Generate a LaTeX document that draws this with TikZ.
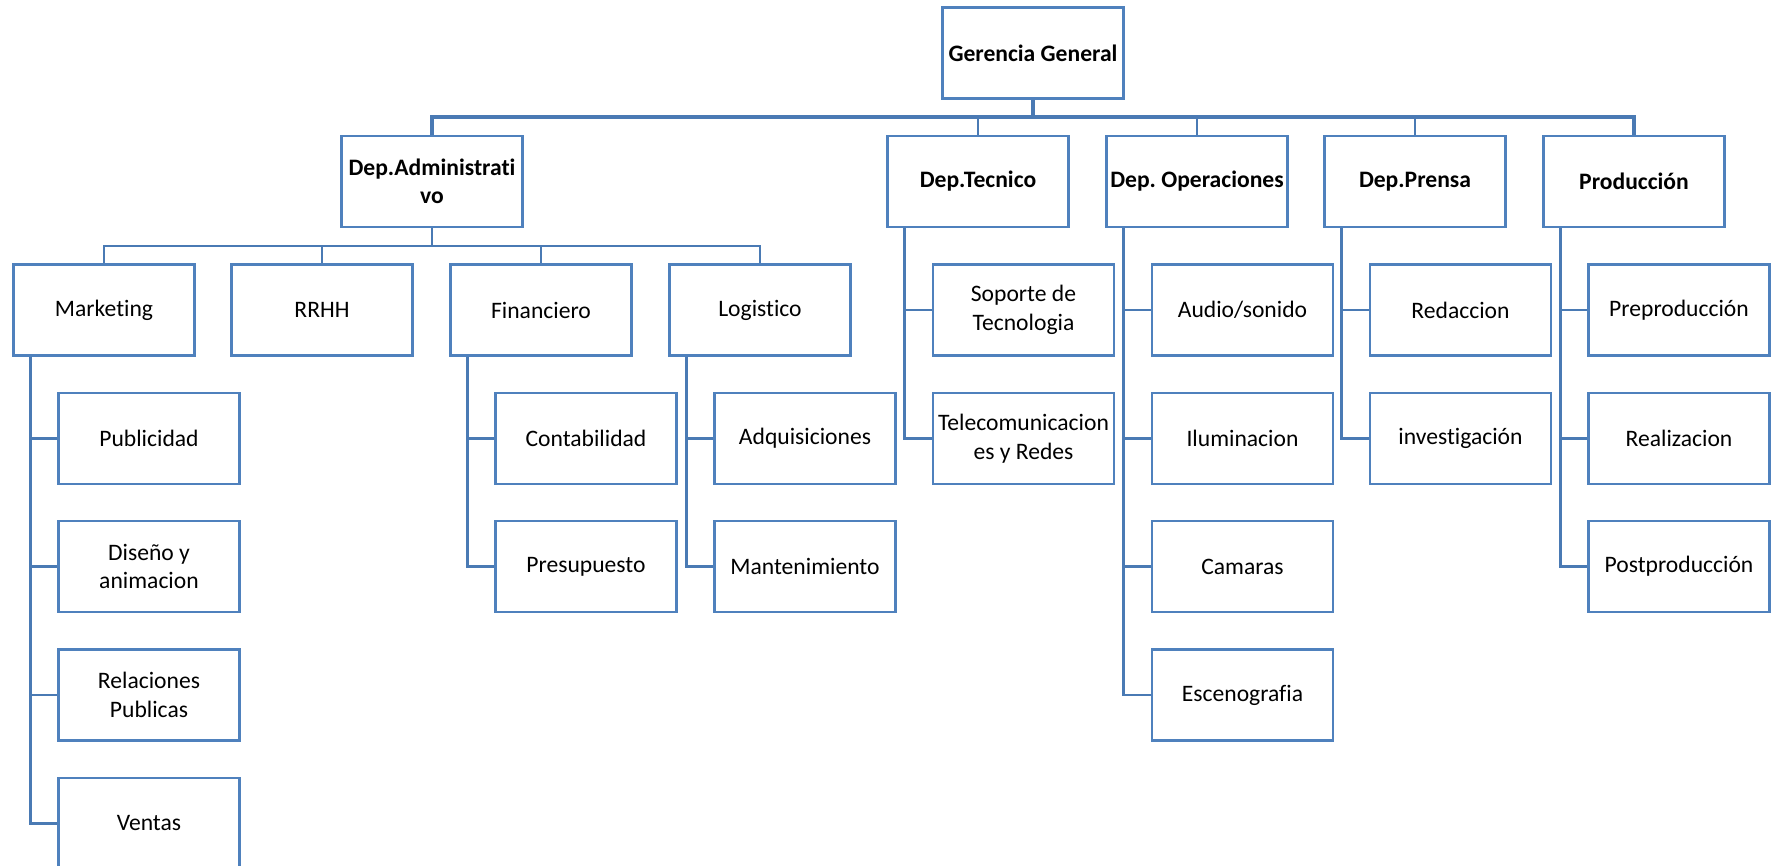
\documentclass[tikz,border=0pt]{standalone}
\usepackage{fontspec}
\setmainfont{Carlito}[Ligatures=NoCommon]
\frenchspacing
\definecolor{boxblue}{RGB}{79,129,189}
\definecolor{linkblue}{RGB}{74,122,180}
\tikzset{
  unit/.style={draw=boxblue, line width=2.8pt, fill=white, minimum width=181pt, minimum height=91pt, inner sep=0pt, align=center, font=\fontsize{23.6}{28.5}\selectfont},
  head/.style={unit, font=\fontsize{23.6}{28.5}\selectfont\bfseries},
  link/.style={draw=linkblue, line width=2.8pt},
  toplink/.style={draw=linkblue, line width=3.6pt}
}
\begin{document}
\begin{tikzpicture}[x=1pt,y=-1pt]
\useasboundingbox (0,0) rectangle (1774,866);
\clip (0,0) rectangle (1774,866);
% level 0
\node[head, minimum height=91.5pt] (g) at (1033,53) {Gerencia General};
% level 1
\node[head] (adm) at (432,181.5) {Dep.Administrati\\vo};
\node[head] (tec) at (978,181.5) {Dep.Tecnico};
\node[head] (ope) at (1197,181.5) {Dep. Operaciones};
\node[head] (pre) at (1415,181.5) {Dep.Prensa};
\node[head] (pro) at (1634,181.5) {Producción};
% level 2 (administration)
\node[unit] (mkt) at (104,310) {Marketing};
\node[unit] (rrhh) at (322,310) {RRHH};
\node[unit] (fin) at (541,310) {Financiero};
\node[unit] (log) at (760,310) {Logistico};
% marketing children
\node[unit] (pub) at (149,438.5) {Publicidad};
\node[unit] (dis) at (149,566.5) {Diseño y\\animacion};
\node[unit] (rel) at (149,695) {Relaciones\\Publicas};
\node[unit] (ven) at (149,823.5) {Ventas};
% financiero children
\node[unit] (con) at (586,438.5) {Contabilidad};
\node[unit] (pres) at (586,566.5) {Presupuesto};
% logistico children
\node[unit] (adq) at (805,438.5) {Adquisiciones};
\node[unit] (man) at (805,566.5) {Mantenimiento};
% tecnico children
\node[unit] (sop) at (1023.5,310) {Soporte de\\Tecnologia};
\node[unit] (tel) at (1023.5,438.5) {Telecomunicacion\\es y Redes};
% operaciones children
\node[unit] (aud) at (1242.5,310) {Audio/sonido};
\node[unit] (ilu) at (1242.5,438.5) {Iluminacion};
\node[unit] (cam) at (1242.5,566.5) {Camaras};
\node[unit] (esc) at (1242.5,695) {Escenografia};
% prensa children
\node[unit] (red) at (1460.5,310) {Redaccion};
\node[unit] (inv) at (1460.5,438.5) {investigación};
% produccion children
\node[unit] (prep) at (1679,310) {Preproducción};
\node[unit] (rea) at (1679,438.5) {Realizacion};
\node[unit] (post) at (1679,566.5) {Postproducción};

% level 0 -> level 1
\coordinate (bar0) at (1033,117);
\draw[toplink] (g.south) -- (bar0);
\draw[toplink] (adm.north) -- (adm.north |- bar0) -- (pro.north |- bar0) -- (pro.north);
\foreach \n in {tec,ope,pre} \draw[link] (\n.north |- bar0) -- (\n.north);

% admin -> level 2
\coordinate (bar1) at (432,246);
\draw[link] (adm.south) -- (bar1);
\draw[link] (mkt.north) -- (mkt.north |- bar1) -- (log.north |- bar1) -- (log.north);
\foreach \n in {rrhh,fin} \draw[link] (\n.north |- bar1) -- (\n.north);

% vertical trunks
\foreach \p/\kids in {mkt/{pub,dis,rel,ven}, fin/{con,pres}, log/{adq,man}, tec/{sop,tel}, ope/{aud,ilu,cam,esc}, pre/{red,inv}, pro/{prep,rea,post}}{
  \coordinate (\p v) at ([xshift=18pt]\p.south west);
  \foreach \k in \kids { \draw[link] (\p v) |- (\k.west); }
}
\end{tikzpicture}
\end{document}
